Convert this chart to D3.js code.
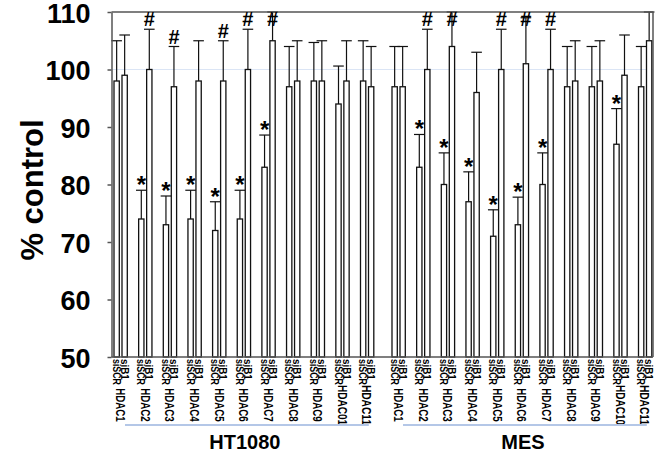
<!DOCTYPE html>
<html>
<head>
<meta charset="utf-8">
<script src="https://cdn.jsdelivr.net/npm/d3@7"></script>
<style>
  html, body { margin: 0; padding: 0; background: #fff; }
  svg { display: block; }
  text { font-family: "Liberation Sans", Arial, sans-serif; fill: #000; }
</style>
</head>
<body>
<div id="chart"></div>
<script>
// ---------------- data ----------------
const groups = ["HT1080", "MES"];
const conditions = ["siSCR", "siB1"];
const htLabels = ["HDAC1","HDAC2","HDAC3","HDAC4","HDAC5","HDAC6","HDAC7","HDAC8","HDAC9","HDAC01","HDAC11"];
const mesLabels = ["HDAC1","HDAC2","HDAC3","HDAC4","HDAC5","HDAC6","HDAC7","HDAC8","HDAC9","HDAC10","HDAC11"];

const htSCR    = [98, 74, 73, 74, 72, 74, 83, 97, 98, 94, 98];
const htSCRerr = [7, 5, 5, 5, 5, 5, 5.6, 7, 6.7, 6.6, 7];
const htB1     = [99, 100, 97, 98, 98, 100, 105, 98, 98, 98, 97];
const htB1err  = [7, 7, 7, 7, 7, 7, 5, 7, 7, 7, 7];

const mesSCR    = [97, 83, 80, 77, 71, 73, 80, 97, 97, 87, 97];
const mesSCRerr = [7, 5.7, 5.5, 5.2, 4.6, 4.8, 5.5, 7, 7, 6.2, 7];
const mesB1     = [97, 100, 104, 96, 100, 101, 100, 98, 98, 99, 105];
const mesB1err  = [7, 7, 6, 7, 7, 8, 7, 7, 7, 7, 5];

const htStar  = [0,1,1,1,1,1,1,0,0,0,0];
const htHash  = [0,1,1,0,1,1,1,0,0,0,0];
const mesStar = [0,1,1,1,1,1,1,0,0,1,0];
const mesHash = [0,1,1,0,1,1,1,0,0,0,0];

const yTicks = [50, 60, 70, 80, 90, 100, 110];
const yTitle = "% control";

// ---------------- build rows ----------------
const groupData = {
  "HT1080": {labels: htLabels, scr: htSCR, scrErr: htSCRerr, b1: htB1, b1Err: htB1err, star: htStar, hash: htHash},
  "MES":    {labels: mesLabels, scr: mesSCR, scrErr: mesSCRerr, b1: mesB1, b1Err: mesB1err, star: mesStar, hash: mesHash}
};
const rows = [];
groups.forEach(g => {
  const d = groupData[g];
  d.labels.forEach((lab, i) => {
    rows.push({group: g, idx: i, label: lab, cond: "siSCR", value: d.scr[i], err: d.scrErr[i], mark: d.star[i] ? "*" : null});
    rows.push({group: g, idx: i, label: lab, cond: "siB1", value: d.b1[i], err: d.b1Err[i], mark: d.hash[i] ? "#" : null});
  });
});

// ---------------- layout ----------------
const W = 661, H = 468;
const plotLeft = 111.5, plotRight = 653, plotTop = 12, plotBottom = 357;

const svg = d3.select("#chart").append("svg").attr("width", W).attr("height", H);

const y = d3.scaleLinear().domain([50, 110]).range([plotBottom, plotTop]);
const x0 = d3.scaleBand().domain(groups).range([114, 651.8]).paddingInner(0.06547).paddingOuter(0);
const x1 = d3.scaleBand().domain(d3.range(11)).range([0, x0.bandwidth()]).paddingInner(0.4604).paddingOuter(0);
const x2 = d3.scaleBand().domain(conditions).range([0, x1.bandwidth()]).paddingInner(0.3375).paddingOuter(0);

const barX = d => x0(d.group) + x1(d.idx) + x2(d.cond);
const barC = d => barX(d) + x2.bandwidth() / 2;
const pairC = (g, i) => x0(g) + x1(i) + x1.bandwidth() / 2;

// gridline at 100 (faint blue)
svg.append("line")
  .attr("x1", plotLeft).attr("x2", plotRight)
  .attr("y1", y(100)).attr("y2", y(100))
  .attr("stroke", "#dbe5f5").attr("stroke-width", 1.2);

// error bars
const eb = svg.append("g").attr("stroke", "#111").attr("stroke-width", 1.2).attr("fill", "none");
rows.forEach(d => {
  const top = Math.min(d.value + d.err, 110);
  const cx = barC(d);
  eb.append("line").attr("x1", cx).attr("x2", cx).attr("y1", y(d.value)).attr("y2", y(top));
  eb.append("line").attr("x1", cx - 5.3).attr("x2", cx + 5.3).attr("y1", y(top)).attr("y2", y(top));
});

// bars
svg.append("g").selectAll("rect").data(rows).join("rect")
  .attr("x", d => barX(d))
  .attr("y", d => y(d.value))
  .attr("width", x2.bandwidth())
  .attr("height", d => y(50) - y(d.value))
  .attr("fill", "#fff")
  .attr("stroke", "#111")
  .attr("stroke-width", 1.3);

// frame (top, right, bottom)
const frame = svg.append("g").attr("stroke", "#555").attr("stroke-width", 1.5).attr("fill", "none");
frame.append("line").attr("x1", plotLeft).attr("x2", plotRight).attr("y1", plotTop).attr("y2", plotTop);
frame.append("line").attr("x1", plotRight).attr("x2", plotRight).attr("y1", plotTop).attr("y2", plotBottom);
frame.append("line").attr("x1", plotLeft).attr("x2", plotRight).attr("y1", plotBottom).attr("y2", plotBottom);

// y axis
const yAxis = svg.append("g").attr("transform", `translate(${plotLeft},0)`)
  .call(d3.axisLeft(y).tickValues(yTicks).tickSize(4).tickSizeOuter(0).tickPadding(17));
yAxis.select(".domain").attr("stroke", "#555").attr("stroke-width", 1.5);
yAxis.selectAll(".tick line").attr("stroke", "#555").attr("stroke-width", 1.5);
yAxis.selectAll(".tick text")
  .attr("font-family", "Liberation Sans, Arial, sans-serif")
  .attr("font-weight", "bold").attr("font-size", 27).attr("fill", "#000")
  .attr("dy", "0.37em");

// y title
svg.append("text")
  .attr("transform", `translate(43,190) rotate(-90)`)
  .attr("text-anchor", "middle")
  .attr("font-weight", "bold").attr("font-size", 31)
  .text(yTitle);

// significance marks
svg.append("g").selectAll("text").data(rows.filter(d => d.mark)).join("text")
  .attr("x", d => barC(d))
  .attr("y", d => {
    const top = Math.min(d.value + d.err, 110);
    return d.mark === "#" ? Math.max(y(top) - 3, 26) : y(top) + 3;
  })
  .attr("text-anchor", "middle")
  .attr("font-family", d => d.mark === "*" ? "DejaVu Sans, sans-serif" : "Liberation Sans, Arial, sans-serif")
  .attr("font-weight", "bold")
  .attr("font-size", d => d.mark === "*" ? 24 : 20)
  .text(d => d.mark);

// condition labels (rotated)
svg.append("g").selectAll("text").data(rows).join("text")
  .attr("transform", d => `translate(${barC(d)},${plotBottom + 2}) rotate(90)`)
  .attr("dy", "0.35em")
  .attr("font-size", 11)
  .attr("font-weight", "bold")
  .attr("textLength", d => d.cond.length * 5.2)
  .attr("lengthAdjust", "spacingAndGlyphs")
  .text(d => d.cond);

// HDAC labels
const pairs = rows.filter(d => d.cond === "siSCR");
svg.append("g").selectAll("text").data(pairs).join("text")
  .attr("transform", d => `translate(${pairC(d.group, d.idx)},405) rotate(90)`)
  .attr("dy", "0.36em")
  .attr("text-anchor", "middle")
  .attr("font-weight", "bold")
  .attr("font-size", 13)
  .attr("textLength", d => d.label.length * 6.7)
  .attr("lengthAdjust", "spacingAndGlyphs")
  .text(d => d.label);

// group lines and labels
groups.forEach(g => {
  const xa = x0(g) + 11, xb = x0(g) + x0.bandwidth() - 5;
  svg.append("line").attr("x1", xa).attr("x2", xb).attr("y1", 425).attr("y2", 425)
    .attr("stroke", "#b4c7e7").attr("stroke-width", 2);
  svg.append("text").attr("x", (xa + xb) / 2 - 2).attr("y", 449)
    .attr("text-anchor", "middle").attr("font-weight", "bold").attr("font-size", 20)
    .text(g);
});
</script>
</body>
</html>
